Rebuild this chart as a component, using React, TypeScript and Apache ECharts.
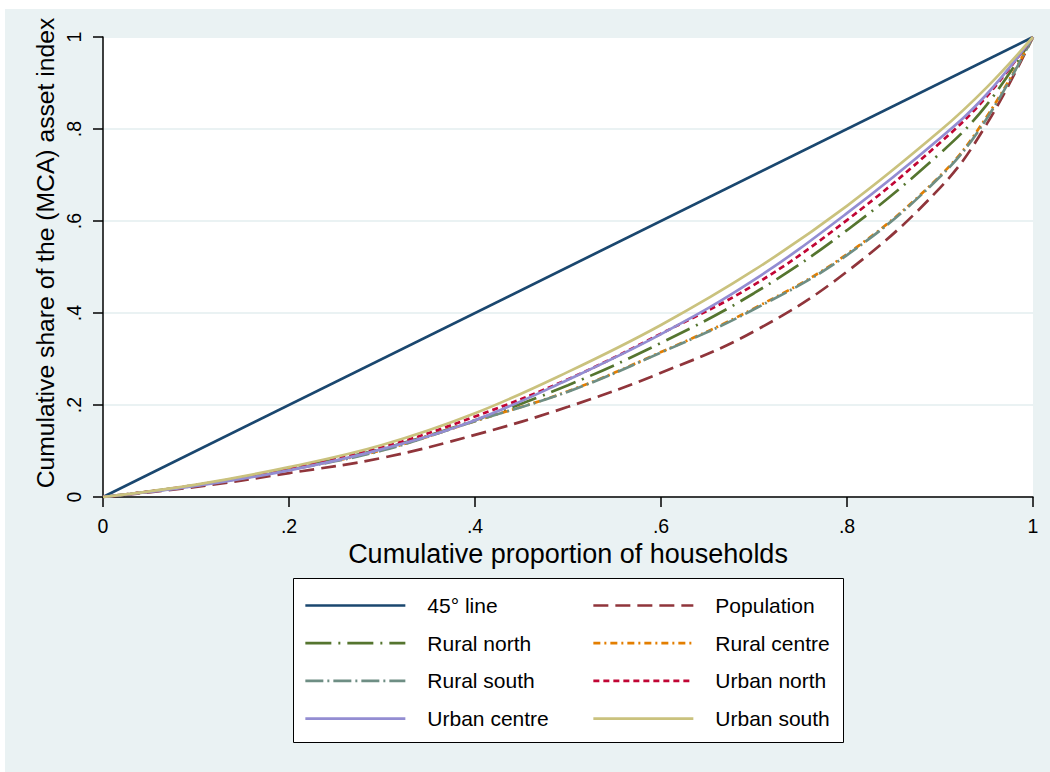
import React, { useEffect, useRef } from "react";
import * as echarts from "echarts";

const xs = [0, 0.1, 0.2, 0.3, 0.4, 0.5, 0.6, 0.7, 0.8, 0.9, 0.95, 1];
const xTicks = ["0", ".2", ".4", ".6", ".8", "1"];

const lineDiag = [0, 1];
const population = [0, 0.022, 0.052, 0.085, 0.135, 0.196, 0.27, 0.36, 0.49, 0.672, 0.81, 1];
const ruralNorth = [0, 0.026, 0.062, 0.105, 0.167, 0.243, 0.335, 0.443, 0.58, 0.747, 0.852, 1];
const ruralCentre = [0, 0.025, 0.06, 0.102, 0.165, 0.23, 0.315, 0.41, 0.528, 0.698, 0.826, 1];
const ruralSouth = [0, 0.025, 0.059, 0.101, 0.165, 0.229, 0.314, 0.408, 0.526, 0.696, 0.822, 1];
const urbanNorth = [0, 0.026, 0.063, 0.108, 0.175, 0.256, 0.355, 0.461, 0.602, 0.77, 0.87, 1];
const urbanCentre = [0, 0.024, 0.058, 0.104, 0.167, 0.255, 0.354, 0.472, 0.617, 0.78, 0.875, 1];
const urbanSouth = [0, 0.027, 0.065, 0.113, 0.182, 0.272, 0.374, 0.493, 0.633, 0.796, 0.89, 1];

const FONT = "'Liberation Sans', Arial, sans-serif";

function fmt(v: number): string {
  const idx = Math.round(v * 5);
  return xTicks[idx] ?? String(v);
}

export default function App() {
  const ref = useRef<HTMLDivElement>(null);
  useEffect(() => {
    if (!ref.current) return;
    const chart = echarts.init(ref.current, undefined, { renderer: "svg" });
    const pair = (arr: number[]) => arr.map((y, i) => [xs[i], y]);
    const mk = (name: string, data: number[][], color: string, type: any, smooth: any = 0.4) => ({
      name,
      type: "line",
      data,
      symbol: "none",
      showSymbol: false,
      smooth,
      itemStyle: { color },
      lineStyle: { color, width: 2.7, type, cap: "butt" },
      z: 3,
    });
    const series = [
      mk("45° line", [[0, lineDiag[0]], [1, lineDiag[1]]], "#1a476f", "solid", false),
      mk("Population", pair(population), "#90353b", [15, 7]),
      mk("Rural north", pair(ruralNorth), "#55752f", [26, 7, 2, 7]),
      mk("Rural centre", pair(ruralCentre), "#e37e00", [7, 4, 2, 4]),
      mk("Rural south", pair(ruralSouth), "#6e8e84", [18, 4, 2, 4]),
      mk("Urban north", pair(urbanNorth), "#c10534", [6, 4]),
      mk("Urban centre", pair(urbanCentre), "#938dd2", "solid"),
      mk("Urban south", pair(urbanSouth), "#cac27e", "solid"),
    ];
    const legendCommon = {
      orient: "vertical",
      top: 595,
      padding: 0,
      itemWidth: 100,
      itemHeight: 21,
      itemGap: 16.7,
      selectedMode: false,
      itemStyle: { opacity: 0 },
      lineStyle: { width: 2.7 },
      textStyle: { fontSize: 21, color: "#000", fontFamily: FONT, padding: [0, 0, 0, 17] },
    };
    chart.setOption({
      animation: false,
      textStyle: { fontFamily: FONT },
      graphic: [
        {
          type: "rect",
          z: -10,
          silent: true,
          shape: { x: 5, y: 9, width: 1045, height: 763 },
          style: { fill: "#eaf2f3" },
        },
        {
          type: "rect",
          z: 1,
          silent: true,
          shape: { x: 293.5, y: 578.5, width: 550, height: 164 },
          style: { fill: "#ffffff", stroke: "#000000", lineWidth: 1 },
        },
        {
          type: "text",
          z: 5,
          x: 45,
          y: 253,
          rotation: Math.PI / 2,
          style: {
            text: "Cumulative share of the (MCA) asset index",
            fontSize: 24.7,
            fontFamily: FONT,
            fill: "#000",
            align: "center",
            verticalAlign: "middle",
          },
        },
      ],
      grid: {
        left: 103,
        top: 37,
        width: 930,
        height: 460,
        show: true,
        backgroundColor: "#ffffff",
        borderWidth: 0,
      },
      xAxis: {
        type: "value",
        min: 0,
        max: 1,
        interval: 0.2,
        name: "Cumulative proportion of households",
        nameLocation: "middle",
        nameGap: 36,
        nameTextStyle: { fontSize: 27, color: "#000", fontFamily: FONT },
        axisLine: { show: true, onZero: false, lineStyle: { color: "#000", width: 1.5 } },
        axisTick: { show: true, length: 10, lineStyle: { color: "#000", width: 1.5 } },
        axisLabel: { formatter: fmt, fontSize: 19.5, color: "#000", margin: 19, fontFamily: FONT },
        splitLine: { show: false },
      },
      yAxis: {
        type: "value",
        min: 0,
        max: 1,
        interval: 0.2,
        axisLine: { show: true, onZero: false, lineStyle: { color: "#000", width: 1.5 } },
        axisTick: { show: true, length: 10, lineStyle: { color: "#000", width: 1.5 } },
        axisLabel: { formatter: fmt, fontSize: 19.5, color: "#000", margin: 19, rotate: 90, fontFamily: FONT },
        splitLine: { show: true, lineStyle: { color: "#eaf2f3", width: 2 } },
      },
      legend: [
        { ...legendCommon, left: 304, data: ["45° line", "Rural north", "Rural south", "Urban centre"] },
        { ...legendCommon, left: 592, data: ["Population", "Rural centre", "Urban north", "Urban south"] },
      ],
      series,
    });
    return () => chart.dispose();
  }, []);
  return (
    <div style={{ position: "fixed", left: 0, top: 0, width: 1050, height: 772, background: "#ffffff" }}>
      <div ref={ref} style={{ width: 1050, height: 772 }} />
    </div>
  );
}
